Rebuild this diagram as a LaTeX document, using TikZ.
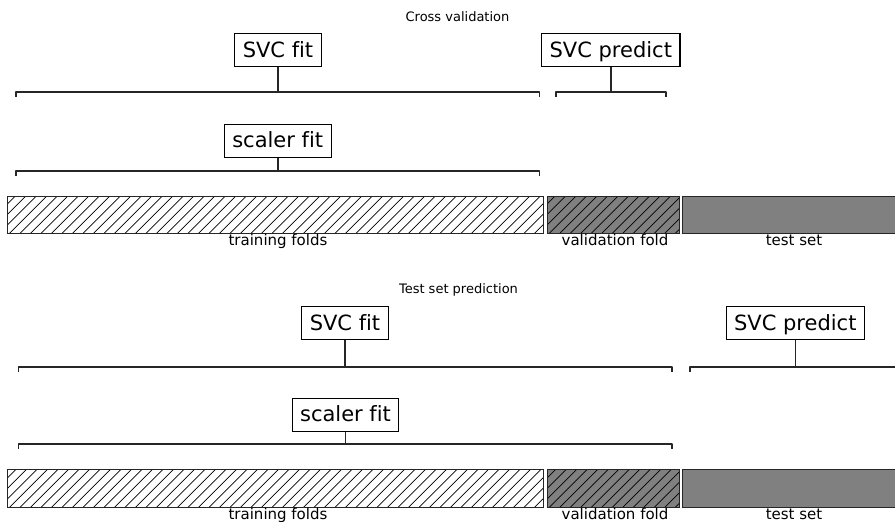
\documentclass[tikz,border=0pt]{standalone}
\usepackage{fontspec}
\setmainfont[Ligatures=NoCommon]{DejaVu Sans}
\usetikzlibrary{positioning}
\tikzset{
  stepbox/.style={draw,line width=1.1pt,font=\fontsize{21}{25}\selectfont,
    text height=15.3pt,text depth=0.9pt,inner xsep=8pt,inner ysep=8.4pt},
  bracketline/.style={line width=1.6pt,line join=round,black!85},
  barlabel/.style={font=\fontsize{15}{18}\selectfont,anchor=base},
  paneltitle/.style={font=\fontsize{13}{15}\selectfont,anchor=base},
  hatchline/.style={line width=0.75pt},
  baredge/.style={draw=black!85,line width=0.9pt}
}
\newcommand{\hbracket}[4]{% x1, x2, y, name   (bracket with end ticks)
  \draw[bracketline] (#1,#3+5) -- (#1,#3) -- (#2,#3) -- (#2,#3+5);
  \coordinate (#4) at ({(#1+#2)/2},#3);}
\newcommand{\hatchbar}[5]{% x1, x2, y1, y2, fill   (bar with // hatching)
  \fill[#5] (#1,#3) rectangle (#2,#4);
  \begin{scope}
    \clip (#1,#3) rectangle (#2,#4);
    \foreach \k in {0,...,60} \draw[hatchline] ({#1-40+10.5*\k},#4) -- ++(40,-40);
  \end{scope}
  \draw[baredge] (#1,#3) rectangle (#2,#4);}

\begin{document}
\begin{tikzpicture}[x=1pt,y=-1pt]
  \clip (0,0) rectangle (895,522);
  % cross validation
  \node[paneltitle] (cvtitle) at (457.5,21.7) {Cross validation};
  \node[stepbox] (cvfit) at (278,50) {SVC fit};
  \node[stepbox] (cvpredict) at (610.8,50) {SVC predict};
  \node[stepbox] (cvscaler) at (277.7,140.7) {scaler fit};
  \hbracket{16}{539.3}{91.7}{cvfitb}
  \hbracket{555.7}{666}{91.7}{cvpredictb}
  \hbracket{16}{539.3}{170.7}{cvscalerb}
  \draw[bracketline] (cvfit.south) -- (cvfit.south |- cvfitb);
  \draw[bracketline] (cvpredict.south) -- (cvpredict.south |- cvpredictb);
  \draw[bracketline] (cvscaler.south) -- (cvscaler.south |- cvscalerb);
  \hatchbar{7.5}{543.3}{196}{233.3}{white}
  \hatchbar{547.3}{679.3}{196}{233.3}{black!50}
  \fill[black!50] (682.3,196) rectangle (905,233.3);
  \draw[baredge] (682.3,196) rectangle (905,233.3);
  \node[barlabel] (cvtrain) at (278,245) {training folds};
  \node[barlabel] (cvval) at (615,245) {validation fold};
  \node[barlabel] (cvtest) at (794,245) {test set};
  % test set prediction
  \node[paneltitle] (tstitle) at (458.5,293) {Test set prediction};
  \node[stepbox] (tsfit) at (345,323.4) {SVC fit};
  \node[stepbox] (tspredict) at (795.3,323.4) {SVC predict};
  \node[stepbox] (tsscaler) at (345.5,414.7) {scaler fit};
  \hbracket{18.3}{671.7}{366.7}{tsfitb}
  \hbracket{690}{900.6}{366.7}{tspredictb}
  \hbracket{18.3}{671.7}{444}{tsscalerb}
  \draw[bracketline] (tsfit.south) -- (tsfit.south |- tsfitb);
  \draw[bracketline] (tspredict.south) -- (tspredict.south |- tspredictb);
  \draw[bracketline] (tsscaler.south) -- (tsscaler.south |- tsscalerb);
  \hatchbar{7.5}{543.3}{469.5}{507.3}{white}
  \hatchbar{547.3}{679.3}{469.5}{507.3}{black!50}
  \fill[black!50] (682.3,469.5) rectangle (905,507.3);
  \draw[baredge] (682.3,469.5) rectangle (905,507.3);
  \node[barlabel] (tstrain) at (278,519) {training folds};
  \node[barlabel] (tsval) at (615,519) {validation fold};
  \node[barlabel] (tstest) at (794,519) {test set};
\end{tikzpicture}
\end{document}
